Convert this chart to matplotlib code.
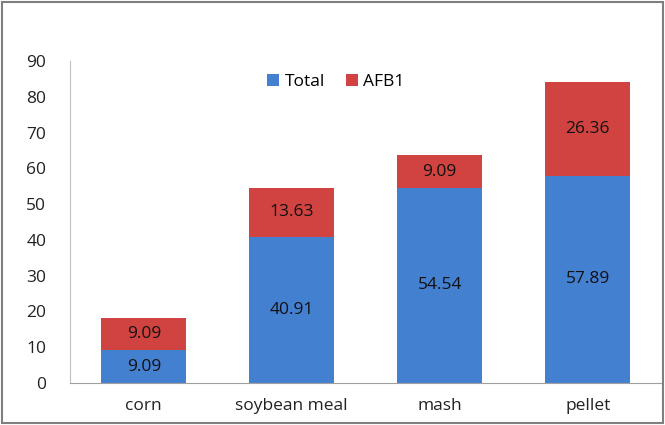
import matplotlib.pyplot as plt
from matplotlib.patches import Rectangle
import numpy as np

plt.rcParams['font.family'] = ['Open Sans', 'DejaVu Sans']

# --- Data ---
categories = ["corn", "soybean meal", "mash", "pellet"]
total = [9.09, 40.91, 54.54, 57.89]
afb1 = [9.09, 13.63, 9.09, 26.36]

BLUE = "#4480d0"
RED = "#d04341"

fig = plt.figure(figsize=(6.65, 4.25), dpi=100)
ax = fig.add_axes([0.105, 0.099, 0.89, 0.757])

x = np.arange(len(categories))
width = 0.575
ax.bar(x, total, width, color=BLUE, label="Total")
ax.bar(x, afb1, width, bottom=total, color=RED, label="AFB1")

# value labels in the middle of each segment
for xi, t, a in zip(x, total, afb1):
    ax.text(xi, t / 2, f"{t:.2f}", ha="center", va="center", fontsize=12.5, color="#111111")
    ax.text(xi, t + a / 2, f"{a:.2f}", ha="center", va="center", fontsize=12.5, color="#111111")

ax.set_xlim(-0.5, len(categories) - 0.5)
ax.set_ylim(0, 90)
ax.set_yticks(range(0, 91, 10))
ax.set_xticks(x)
ax.set_xticklabels(categories)
ax.tick_params(axis="y", length=0, pad=17, labelsize=12.5, colors="#222222")
ax.tick_params(axis="x", length=0, pad=11, labelsize=12.5, colors="#222222")

for s in ["top", "right"]:
    ax.spines[s].set_visible(False)
ax.spines["left"].set_color("#c0c0c0")
ax.spines["bottom"].set_color("#a0a0a0")

ax.legend(loc="center", bbox_to_anchor=(0.505, 0.808), bbox_transform=fig.transFigure,
          ncol=2, frameon=False, fontsize=12.5, handlelength=0.7, handleheight=0.7,
          handletextpad=0.3, columnspacing=1.2)

# outer border of the chart area
fig.patches.append(Rectangle((0.003, 0.004), 0.994, 0.992, transform=fig.transFigure,
                             fill=False, edgecolor="#7f7f7f", linewidth=1.5))

plt.savefig("out.png", dpi=100)
